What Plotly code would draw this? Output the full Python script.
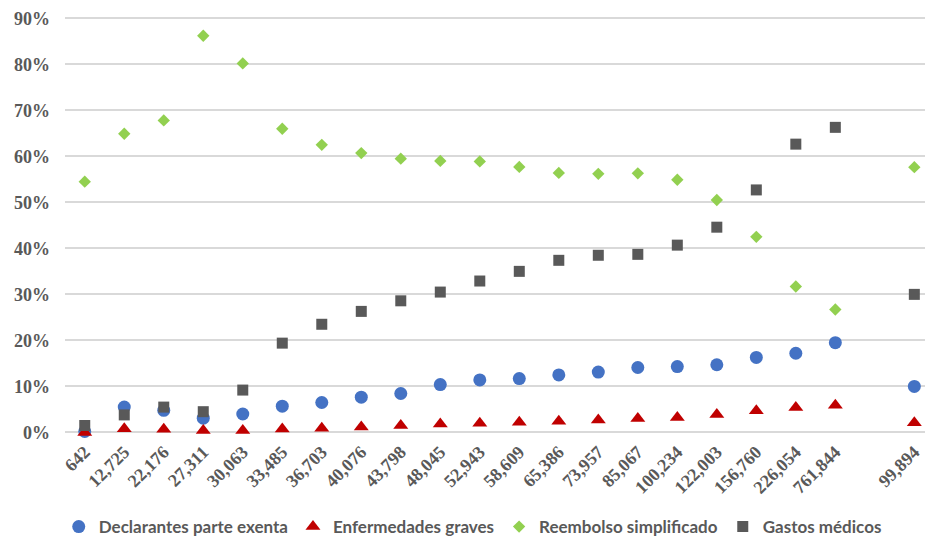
import plotly.graph_objects as go

# Income brackets (blank slot separates the last summary bracket)
categories = ["642", "12,725", "22,176", "27,311", "30,063", "33,485", "36,703",
              "40,076", "43,798", "48,045", "52,943", "58,609", "65,386", "73,957",
              "85,067", "100,234", "122,003", "156,760", "226,054", "761,844",
              "", "99,894"]

# Shares in percent per bracket
declarantes = [0.2, 5.5, 4.8, 3.1, 4.0, 5.7, 6.5, 7.65, 8.45, 10.4, 11.4, 11.7,
               12.5, 13.1, 14.1, 14.3, 14.7, 16.3, 17.2, 19.5, None, 10.0]
enfermedades = [0.0, 0.8, 0.7, 0.4, 0.4, 0.75, 0.9, 1.2, 1.5, 1.8, 2.0, 2.2,
                2.4, 2.7, 3.0, 3.25, 3.9, 4.7, 5.4, 5.9, None, 2.1]
reembolso = [54.5, 64.9, 67.8, 86.2, 80.2, 66.0, 62.5, 60.7, 59.5, 59.0, 58.9,
             57.7, 56.4, 56.2, 56.3, 54.9, 50.5, 42.5, 31.7, 26.7, None, 57.65]
gastos = [1.5, 3.8, 5.5, 4.5, 9.2, 19.4, 23.5, 26.3, 28.6, 30.5, 32.9, 35.0,
          37.4, 38.5, 38.7, 40.7, 44.6, 52.7, 62.65, 66.3, None, 30.0]

y_ticks = [0, 10, 20, 30, 40, 50, 60, 70, 80, 90]
y_labels = [f"{v}%" for v in y_ticks]

positions = list(range(len(categories)))
tick_pos = [p for p, c in zip(positions, categories) if c]
tick_txt = [c for c in categories if c]

series = [
    ("Declarantes parte exenta", declarantes, "circle", 13, "#4472C4"),
    ("Enfermedades graves", enfermedades, "triangle-up", 13, "#C00000"),
    ("Reembolso simplificado", reembolso, "diamond", 9.5, "#92D050"),
    ("Gastos médicos", gastos, "square", 11, "#595959"),
]

fig = go.Figure()
for name, vals, sym, size, color in series:
    fig.add_trace(go.Scatter(
        x=positions, y=vals, name=name, mode="markers",
        marker=dict(symbol=sym, size=size, color=color, line=dict(width=0)),
        cliponaxis=False,
    ))

serif = "Times New Roman, Liberation Serif, serif"
tick_font = dict(family=serif, size=18, color="#595959", weight="bold")

fig.update_layout(
    width=925, height=540,
    margin=dict(l=65, r=0, t=16.2, b=102.9),
    plot_bgcolor="white", paper_bgcolor="white",
    showlegend=True,
    legend=dict(
        orientation="h", xref="container", yref="container",
        x=0.0635, xanchor="left", y=0.024, yanchor="middle",
        font=dict(family="Lato", size=17, color="#595959", weight="bold"),
        itemwidth=30,
    ),
    xaxis=dict(
        range=[-0.5, 21.27], tickvals=tick_pos, ticktext=tick_txt,
        tickangle=-45, tickfont=tick_font, showgrid=False, zeroline=False,
        showline=False, ticks="",
    ),
    yaxis=dict(
        range=[-1, 90.5], tickvals=y_ticks, ticktext=y_labels,
        tickfont=tick_font, showgrid=True, gridcolor="#D9D9D9", gridwidth=1.5,
        zeroline=False, showline=False, ticks="", ticklabelstandoff=14,
    ),
)

fig.write_html("out.html")
